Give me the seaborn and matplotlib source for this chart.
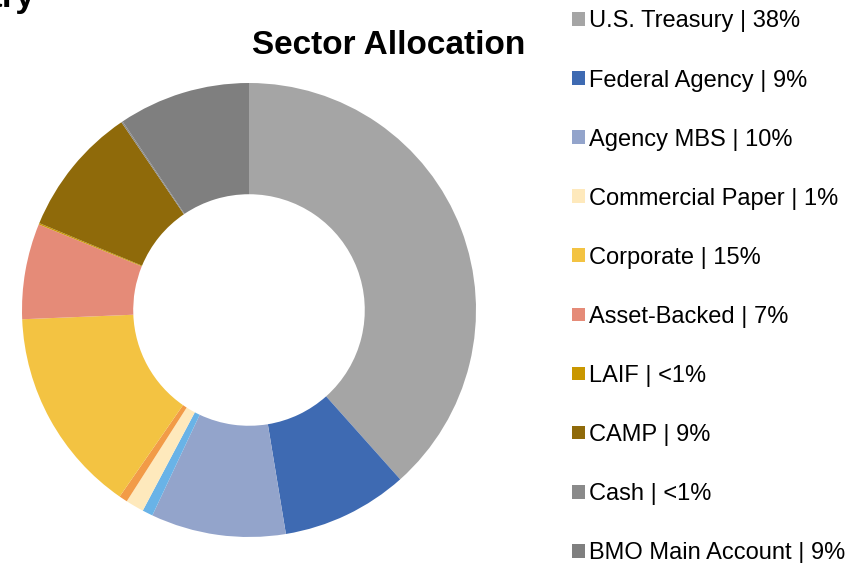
import matplotlib
matplotlib.use("Agg")
import matplotlib.pyplot as plt
import seaborn as sns
from matplotlib.patches import Patch

# slices clockwise from 12 o'clock (two thin slices have no legend entry)
sectors = ['U.S. Treasury', 'Federal Agency', 'Agency MBS', 'Unlisted A',
           'Commercial Paper', 'Unlisted B', 'Corporate', 'Asset-Backed',
           'LAIF', 'CAMP', 'Cash', 'BMO Main Account']
shares = [38.4, 9.0, 9.6, 0.75, 1.3, 0.6, 14.7, 6.8, 0.1, 9.25, 0.1, 9.4]
colors = ['#A5A5A5', '#3E6AB2', '#93A4CB', '#69B3E7', '#FEE9BC', '#F29B47',
          '#F3C342', '#E58B78', '#C99700', '#8F6A0A', '#8A8A8A', '#7F7F7F']

legend_sectors = ['U.S. Treasury', 'Federal Agency', 'Agency MBS', 'Commercial Paper',
                  'Corporate', 'Asset-Backed', 'LAIF', 'CAMP', 'Cash', 'BMO Main Account']
legend_text = ['38%', '9%', '10%', '1%', '15%', '7%', '<1%', '9%', '<1%', '9%']

sns.set_theme(style="white")
plt.rcParams['font.family'] = ['Liberation Sans', 'DejaVu Sans']
plt.rcParams['text.color'] = 'black'

fig = plt.figure(figsize=(8.58, 5.63), dpi=100)

# donut centred near (249, 310) px with radius ~227 px
ax = fig.add_axes([22 / 858, 26 / 563, 454 / 858, 454 / 563])
ax.pie(shares, colors=colors, startangle=90, counterclock=False,
       radius=1.0, wedgeprops=dict(width=0.49, linewidth=0))
ax.set_xlim(-1, 1)
ax.set_ylim(-1, 1)
ax.set_aspect('equal')
ax.axis('off')

fig.text(389 / 858, 1 - 46 / 563, 'Sector Allocation', ha='center', va='center',
         fontsize=24, fontweight='bold', color='black')
# page heading that runs off the top-left corner in the original
fig.text(35 / 858, 1 - 7 / 563, 'Portfolio Summary', ha='right', va='baseline',
         fontsize=25, fontweight='bold', color='black')

color_of = dict(zip(sectors, colors))
handles = [Patch(facecolor=color_of[s], edgecolor='none') for s in legend_sectors]
labels = [f'{s} | {v}' for s, v in zip(legend_sectors, legend_text)]
fig.legend(handles, labels, loc='upper left', bbox_to_anchor=(563 / 858, 1 - 1 / 563),
           frameon=False, fontsize=17, handlelength=0.52, handleheight=0.52,
           handletextpad=0.2, labelspacing=1.57, borderaxespad=0,
           labelcolor='black')

fig.savefig('out.png', dpi=100)
